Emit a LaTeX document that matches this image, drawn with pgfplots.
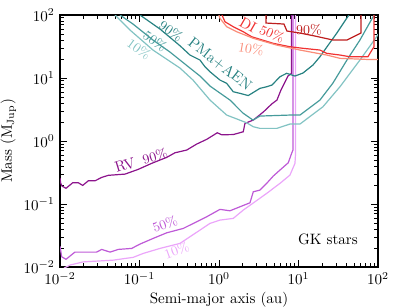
\documentclass[border=0pt]{standalone}
\usepackage{pgfplots}
\pgfplotsset{compat=1.18}
\definecolor{rvA}{RGB}{140,20,140}
\definecolor{rvB}{RGB}{190,90,215}
\definecolor{rvC}{RGB}{235,165,250}
\definecolor{pmA}{RGB}{40,130,130}
\definecolor{pmB}{RGB}{70,155,155}
\definecolor{pmC}{RGB}{130,195,195}
\definecolor{diA}{RGB}{190,30,30}
\definecolor{diB}{RGB}{240,50,50}
\definecolor{diC}{RGB}{250,140,120}
\begin{document}
\begin{tikzpicture}
\useasboundingbox (-39.9pt,-26.6pt) rectangle (225.4pt,177.6pt);
\begin{axis}[
  xmode=log, ymode=log,
  xmin=1e-2, xmax=1e2, ymin=1e-2, ymax=1e2,
  scale only axis, width=211.4pt, height=167.6pt,
  tick align=inside,
  major tick length=4.5pt, minor tick length=2.8pt,
  every tick/.style={black, line width=0.6pt},
  axis line style={line width=1pt},
  xlabel={Semi-major axis (au)},
  ylabel={Mass (M$_{\rm Jup}$)},
  xlabel style={yshift=2pt},
  ylabel style={yshift=-2pt},
  every axis plot/.append style={line width=0.8pt},
]
% RV
\addplot[rvA] coordinates {(0.01,0.26)(0.0102,0.215)(0.0106,0.193)(0.0119,0.178)(0.01444,0.218)(0.01699,0.218)(0.0193,0.198)(0.0227,0.234)(0.02756,0.234)(0.03345,0.265)(0.0405,0.286)(0.06571,0.299)(0.09658,0.356)(0.1424,0.443)(0.2198,0.551)(0.2796,0.652)(0.3924,0.720)(0.5241,0.896)(0.7003,1.064)(0.9519,1.354)(1.081,1.259)(1.513,1.268)(2.021,1.405)(2.123,1.910)(2.701,2.154)(3.607,2.886)(4.602,3.867)(5.365,4.475)(6.026,6.449)(6.766,8.641)(7.378,10.76)(8.165,11.88)(8.165,100)};
\addplot[rvB] coordinates {(0.01,0.0215)(0.0105,0.0146)(0.0119,0.0133)(0.0154,0.0173)(0.0289,0.0173)(0.0335,0.0191)(0.0426,0.0173)(0.0541,0.0191)(0.0798,0.0198)(0.1015,0.0232)(0.1492,0.0286)(0.2198,0.0350)(0.3556,0.0411)(0.7003,0.0629)(1.029,0.0824)(1.375,0.0783)(1.837,0.0906)(2.455,0.1049)(2.701,0.1567)(3.280,0.1668)(3.981,0.2131)(4.819,0.2783)(5.852,0.3465)(7.441,0.4524)(8.204,0.6379)(8.526,0.7197)(8.526,100)};
\addplot[rvC] coordinates {(0.0112,0.0096)(0.0134,0.0108)(0.0196,0.0121)(0.0468,0.0129)(0.0836,0.0143)(0.1116,0.0165)(0.1811,0.0198)(0.3232,0.0238)(0.5768,0.0387)(0.7706,0.0494)(1.029,0.0557)(1.513,0.0593)(2.021,0.0803)(2.837,0.1088)(3.981,0.1478)(5.852,0.2131)(7.818,0.2886)(9.038,0.4426)(9.169,0.6)(9.169,100)};
% PMa+AEN
\addplot[pmA] coordinates {(0.1015,100)(0.1811,59.95)(0.3232,32.56)(0.4316,23.18)(0.5768,19.31)(0.6668,15.11)(0.7706,12.59)(1.029,9.297)(1.250,8.237)(1.513,6.061)(1.837,5.718)(2.336,5.275)(3.280,6.863)(3.981,7.276)(4.642,7.743)(5.852,10.49)(7.105,11.88)(9.038,10.76)(11.39,12.01)(15.22,16.08)(18.64,21.78)(23.71,33.40)(30.23,51.23)(40.39,88.64)(43.17,100)};
\addplot[pmB] coordinates {(0.05686,100)(0.08282,71.97)(0.1478,40.11)(0.2418,25.86)(0.4316,14.41)(0.5768,10.76)(0.7706,7.464)(1.029,5.779)(1.375,4.475)(2.003,2.783)(2.678,2.154)(3.280,2.494)(7.818,2.587)(10.44,2.587)(18.64,4.475)(27.16,8.330)(40.74,19.31)(59.37,40.11)(86.52,92.96)(89.07,100)};
\addplot[pmC] coordinates {(0.04918,100)(0.06024,77.43)(0.07595,57.81)(0.1478,27.83)(0.3232,14.41)(0.4710,9.297)(0.7706,4.475)(1.250,2.587)(2.231,1.951)(2.701,1.687)(3.280,1.591)(5.365,1.591)(7.818,1.862)(10.44,1.862)(20.33,3.503)(33.27,7.276)(59.37,19.31)(96.3,45.24)(100,49.94)};
% DI
\addplot[diA] coordinates {(3.901,100)(3.901,74.65)(6.571,71.97)(7.166,55.72)(10.44,51.80)(16.13,46.42)(27.16,40.11)(40.74,40.11)(54.42,48.14)(61.11,51.80)(61.11,100)};
\addplot[diB] coordinates {(1.091,100)(1.190,78.29)(1.513,65.22)(2.021,54.32)(2.578,45.24)(4.819,35.54)(7.818,31.39)(11.49,29.61)(18.64,27.83)(22.63,24.67)(33.27,23.18)(44.44,21.78)(74.85,21.78)(84.06,27.83)(89.07,31.05)(89.07,100)};
\addplot[diC] coordinates {(1.0,100)(1.029,88.64)(1.250,65.22)(1.670,54.32)(2.701,42.68)(5.318,33.40)(10.44,27.83)(22.63,23.18)(33.27,20.55)(79.36,19.66)(100,19.66)};
% labels
\node[rotate=17, text=rvA] at (axis cs:0.06571,0.4159) {RV};
\node[rotate=17, text=rvA, font=\small] at (axis cs:0.1567,0.5780) {90\%};
\node[rotate=20, text=rvB, font=\small] at (axis cs:0.2093,0.04815) {50\%};
\node[rotate=20, text=rvC, font=\small] at (axis cs:0.2937,0.01828) {10\%};
\node[rotate=-36, text=pmA, font=\small] at (axis cs:0.2489,55.72) {90\%};
\node[rotate=-36, text=pmB, font=\small] at (axis cs:0.1567,38.66) {50\%};
\node[rotate=-36, text=pmC, font=\small] at (axis cs:0.09856,28.86) {10\%};
\node[rotate=-38, text=pmA] at (axis cs:1.029,16.68) {PMa+AEN};
\node[rotate=-30, text=diB] at (axis cs:2.315,69.39) {DI};
\node[rotate=-24, text=diB, font=\small] at (axis cs:4.642,49.94) {50\%};
\node[rotate=-10, text=diC, font=\small] at (axis cs:2.527,28.86) {10\%};
\node[text=diA, font=\small] at (axis cs:13.56,57.81) {90\%};
\node at (axis cs:23.50,0.02783) {GK stars};
\end{axis}
\end{tikzpicture}
\end{document}
